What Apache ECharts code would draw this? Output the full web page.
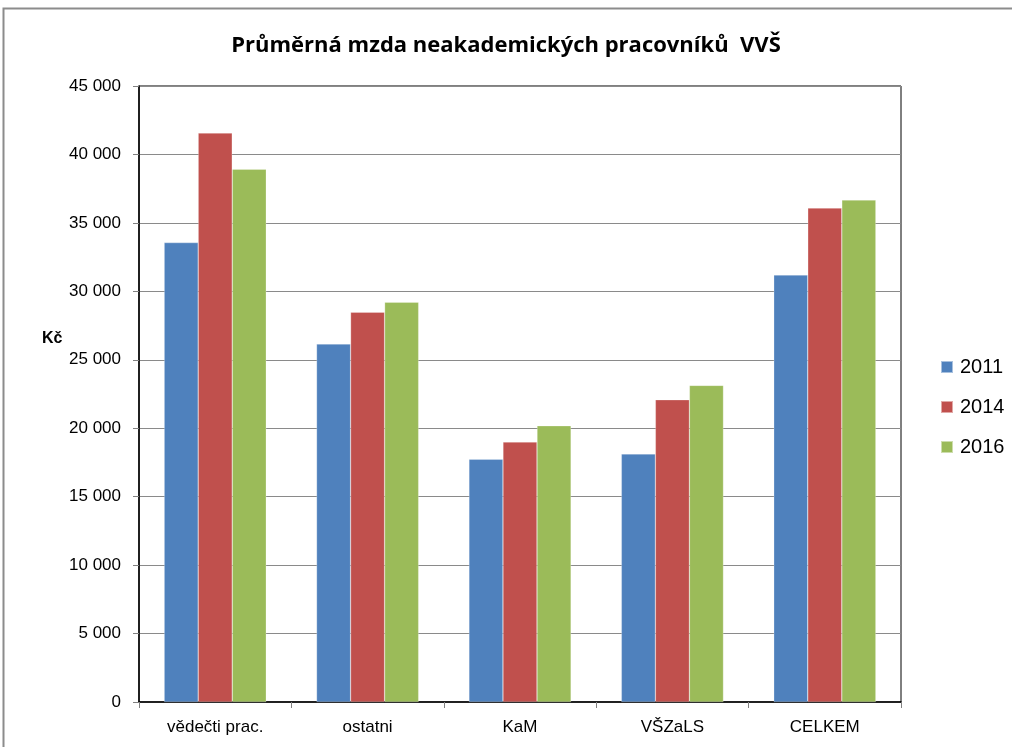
<!DOCTYPE html>
<html><head><meta charset="utf-8">
<script src="https://cdn.jsdelivr.net/npm/echarts@6/dist/echarts.min.js"></script>
<style>html,body{margin:0;padding:0;background:#fff}#c{width:1012px;height:747px}</style>
</head><body><div id="c"></div>
<script>
const categories = ['vědečti prac.', 'ostatni', 'KaM', 'VŠZaLS', 'CELKEM'];
const seriesNames = ['2011', '2014', '2016'];
const values2011 = [33560, 26150, 17730, 18120, 31190];
const values2014 = [41560, 28470, 18990, 22080, 36080];
const values2016 = [38920, 29200, 20180, 23130, 36670];
const colors = ['#4F81BD', '#C0504D', '#9BBB59'];
const allValues = [values2011, values2014, values2016];

const narrow = '"Liberation Sans Narrow", "Arial Narrow", "Liberation Sans", sans-serif';
const chart = echarts.init(document.getElementById('c'));
chart.setOption({
  animation: false,
  backgroundColor: '#fff',
  title: {
    text: 'Průměrná mzda neakademických pracovníků  VVŠ',
    left: 'center', top: 35, padding: 0,
    textStyle: { fontFamily: '"Open Sans", sans-serif', fontWeight: 'bold', fontSize: 22, color: '#000' }
  },
  graphic: [{
    type: 'rect', shape: { x: 3.5, y: 8.5, width: 1020, height: 760 },
    style: { fill: 'none', stroke: '#8c8c8c', lineWidth: 2 }, silent: true, z: -1
  }, {
    type: 'text', left: 42, top: 331,
    style: { text: 'Kč', fontFamily: '"Liberation Sans", sans-serif', fontWeight: 'bold', fontSize: 16, fill: '#000' }
  }],
  legend: {
    orient: 'vertical', left: 935, top: 352, itemGap: 20,
    itemWidth: 12, itemHeight: 12, icon: 'rect',
    data: seriesNames,
    textStyle: { fontFamily: '"Liberation Sans", sans-serif', fontSize: 20, color: '#000', padding: [0, 0, 0, 2] }
  },
  grid: { left: 139, right: 111, top: 86, bottom: 45, show: true, borderColor: '#000', borderWidth: 1, backgroundColor: 'transparent' },
  xAxis: {
    type: 'category', data: categories,
    axisLine: { lineStyle: { color: '#000', width: 1.5 } },
    axisTick: { show: true, length: 6, lineStyle: { color: '#808080' } },
    axisLabel: { fontFamily: narrow, fontSize: 17, color: '#000', margin: 17 }
  },
  yAxis: {
    type: 'value', min: 0, max: 45000, interval: 5000,
    axisLine: { show: true, lineStyle: { color: '#000', width: 1.5 } },
    axisTick: { show: true, length: 6, lineStyle: { color: '#808080' } },
    splitLine: { lineStyle: { color: '#8a8a8a', width: 1 } },
    axisLabel: {
      fontFamily: narrow, fontSize: 17, color: '#000', margin: 18,
      formatter: v => v === 0 ? '0' : String(v).replace(/(\d)(?=(\d{3})+$)/g, '$1 ')
    }
  },
  series: seriesNames.map((n, i) => ({
    name: n, type: 'bar', data: allValues[i],
    barGap: '0%', barCategoryGap: '33%',
    itemStyle: { color: colors[i], borderColor: 'rgba(255,255,255,0.5)', borderWidth: 0.5 }
  }))
});
</script></body></html>
